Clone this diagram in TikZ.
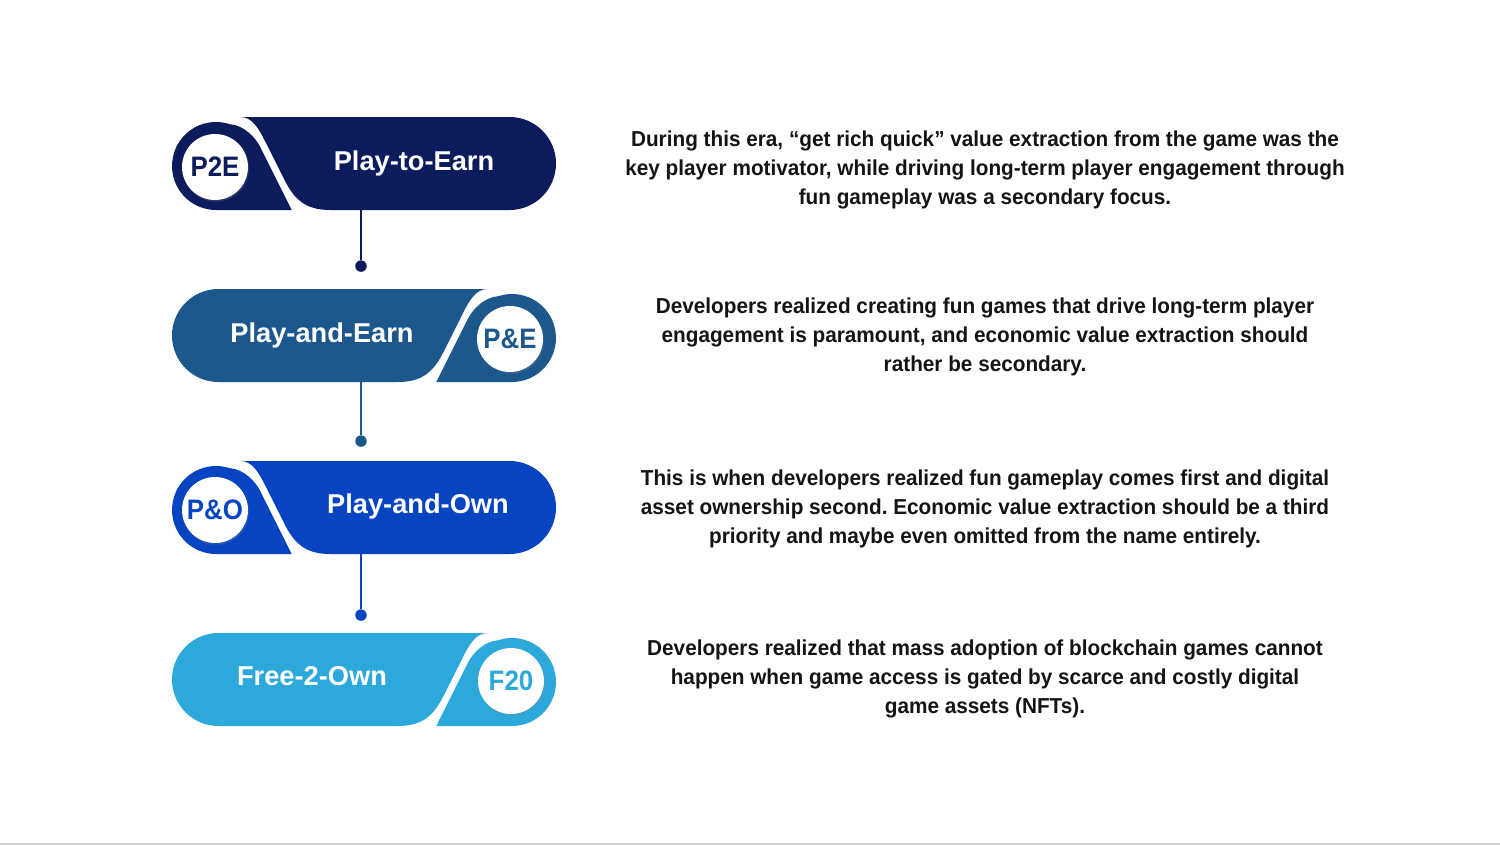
\documentclass[tikz,border=0pt]{standalone}
\usepackage{fontspec}
\setmainfont{Liberation Sans}
\newfontfamily\descfont[FakeStretch=0.96, Ligatures=TeX]{Liberation Sans}
\newfontfamily\badgefont[FakeStretch=0.92]{Liberation Sans}
\usetikzlibrary{positioning,shadows}
\frenchspacing

\definecolor{ptoe}{RGB}{11,27,92}
\definecolor{pande}{RGB}{28,88,140}
\definecolor{pando}{RGB}{6,68,193}
\definecolor{ftwoo}{RGB}{44,168,219}

\tikzset{
  badge/.style={circle, fill=white, minimum size=1.32cm, inner sep=0pt,
    font=\badgefont\fontsize{16}{16}\selectfont\bfseries,
    drop shadow={shadow xshift=0.6pt, shadow yshift=-1pt, opacity=0.25}},
  pilltext/.style={anchor=base, text=white, font=\fontsize{15.5}{15.5}\selectfont\bfseries},
  desc/.style={align=center, text=black!92, font=\descfont\fontsize{12.3}{16.4}\selectfont\bfseries},
  stem/.style={line width=1.1pt},
  dot/.style={circle, inner sep=0pt, minimum size=0.23cm},
}

% main pill plus the round end piece, pill top-left at the origin
\newcommand{\pillshape}[1]{%
  \fill[#1] (68,0) .. controls (80,0) and (86,-10) .. (94,-26) -- (112,-62)
    .. controls (122,-82) and (133,-93) .. (158,-93) -- (337.5,-93)
    arc[start angle=-90, end angle=90, radius=46.5] -- cycle;
  \fill[#1] (44,-93) -- (119.7,-93) -- (87.7,-29.1)
    .. controls (83.7,-21.1) and (72,-8) .. (57.6,-7.15)
    arc[start angle=72, end angle=270, radius=44] -- cycle;
}

\begin{document}
\begin{tikzpicture}[x=0.02cm, y=0.02cm]
  \useasboundingbox (0,0) rectangle (1500,-845);
  \fill[black!18] (0,-843) rectangle (1500,-845);

  % Pills
  \begin{scope}[shift={(172,-117)}] \pillshape{ptoe} \end{scope}
  \begin{scope}[shift={(556,-289)}, xscale=-1] \pillshape{pande} \end{scope}
  \begin{scope}[shift={(172,-461)}] \pillshape{pando} \end{scope}
  \begin{scope}[shift={(556,-633)}, xscale=-1] \pillshape{ftwoo} \end{scope}

  \node[badge, text=ptoe]  (p2e) at (215,-167) {P2E};
  \node[badge, text=pande] (pne) at (510,-339) {P\&E};
  \node[badge, text=pando] (pno) at (215,-510) {P\&O};
  \node[badge, text=ftwoo] (f20) at (511,-681) {F20};

  \node[pilltext] (earn)  at (414,-170) {Play-to-Earn};
  \node[pilltext] (andearn) at (322,-342) {Play-and-Earn};
  \node[pilltext] (andown)  at (418,-513) {Play-and-Own};
  \node[pilltext] (freeown) at (312,-685) {Free-2-Own};

  % Connect the pills
  \coordinate (b1) at (361,-208);
  \coordinate (b2) at (361,-380);
  \coordinate (b3) at (361,-552);
  \node[dot, fill=ptoe,  below=1.04cm of b1] (d1) {};
  \node[dot, fill=pande, below=1.1cm of b2] (d2) {};
  \node[dot, fill=pando, below=1.14cm of b3] (d3) {};
  \draw[stem, ptoe]  (b1) -- (d1);
  \draw[stem, pande] (b2) -- (d2);
  \draw[stem, pando] (b3) -- (d3);

  % Descriptions
  \node[desc] (t1) at (985,-170) {During this era, “get rich quick” value extraction from the game was the\\
    key player motivator, while driving long-term player engagement through\\
    fun gameplay was a secondary focus.};
  \node[desc] (t2) at (985,-337) {Developers realized creating fun games that drive long-term player\\
    engagement is paramount, and economic value extraction should\\
    rather be secondary.};
  \node[desc] (t3) at (985,-509) {This is when developers realized fun gameplay comes first and digital\\
    asset ownership second. Economic value extraction should be a third\\
    priority and maybe even omitted from the name entirely.};
  \node[desc] (t4) at (985,-679) {Developers realized that mass adoption of blockchain games cannot\\
    happen when game access is gated by scarce and costly digital\\
    game assets (NFTs).};
\end{tikzpicture}
\end{document}
